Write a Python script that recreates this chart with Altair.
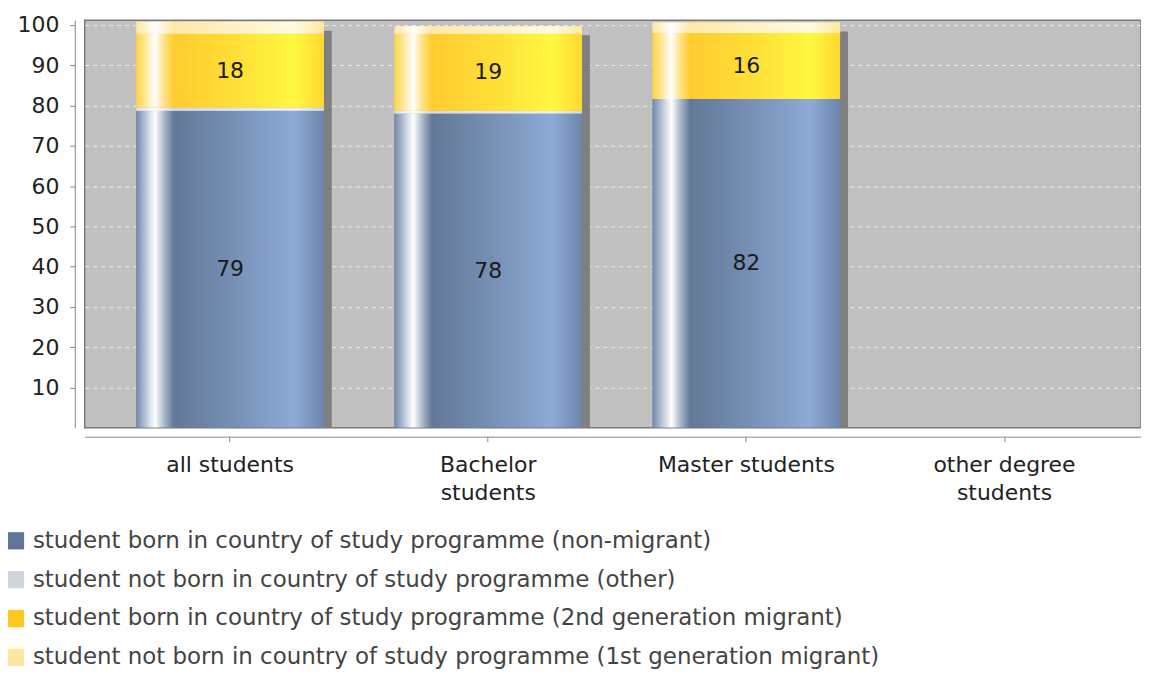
import altair as alt
import pandas as pd

categories = ["all students", "Bachelor students", "Master students", "other degree students"]
series = [
    "student born in country of study programme (non-migrant)",
    "student not born in country of study programme (other)",
    "student born in country of study programme (2nd generation migrant)",
    "student not born in country of study programme (1st generation migrant)",
]
non_migrant = [78.7, 78.0, 81.6, None]
other = [0.8, 0.7, 0.0, None]
gen2 = [18.3, 19.1, 16.4, None]
gen1 = [3.0, 1.9, 2.6, None]
legend_colors = ["#5f7595", "#d0d6e0", "#ffc820", "#ffe7a0"]

rows = []
for si, vals in enumerate([non_migrant, other, gen2, gen1]):
    for c, v in zip(categories, vals):
        if v is not None:
            rows.append({"cat": c, "series": series[si], "order": si, "value": v})
df = pd.DataFrame(rows)

FONT = "DejaVu Sans"

def grad(stops):
    return alt.LinearGradient(
        gradient="linear",
        stops=[alt.GradientStop(color=c, offset=o) for o, c in stops],
        x1=0, x2=1, y1=0, y2=0,
    )

grads = [
    grad([(0, "#7088aa"), (0.05, "#b8c6d8"), (0.1, "#ffffff"), (0.15, "#a8b6c8"),
          (0.2, "#627896"), (0.55, "#7892b8"), (0.84, "#8eaad6"), (1, "#6c86ac")]),
    grad([(0, "#d8dee8"), (0.1, "#ffffff"), (0.2, "#d4dae4"), (0.84, "#eef2f8"), (1, "#d0d8e4")]),
    grad([(0, "#ffd448"), (0.05, "#ffe89a"), (0.1, "#ffffff"), (0.15, "#ffe080"),
          (0.2, "#ffcc30"), (0.55, "#ffe038"), (0.84, "#fff840"), (1, "#ffd830")]),
    grad([(0, "#ffe7a0"), (0.1, "#ffffff"), (0.2, "#ffe8a8"), (0.84, "#fffbe0"), (1, "#ffe8a0")]),
]

x_scale = alt.Scale(domain=categories, paddingInner=0.274, paddingOuter=0.183, align=0.547)
y_scale = alt.Scale(domain=[0, 101.2], nice=False)

label_expr = ("datum.value == 'Bachelor students' ? ['Bachelor', 'students'] : "
              "datum.value == 'other degree students' ? ['other degree', 'students'] : datum.value")

x_enc = alt.X("cat:N", scale=x_scale, sort=categories, title=None,
              axis=alt.Axis(labelExpr=label_expr, labelAngle=0, offset=9, tickSize=5,
                            labelPadding=13, labelFontSize=22, labelLineHeight=28,
                            labelColor="#222", domainColor="#888", tickColor="#888",
                            labelFont=FONT, grid=False))
y_axis = alt.Axis(values=list(range(10, 101, 10)), offset=10, tickSize=5, labelFontSize=22,
                  labelColor="#222", domainColor="#888", tickColor="#888", labelFont=FONT,
                  grid=True, gridColor="#ececec", gridDash=[4, 4], gridWidth=1, labelPadding=11)


def stacked():
    return alt.Chart(df).transform_stack(
        stack="value", groupby=["cat"], as_=["y0", "y1"],
        sort=[alt.SortField("order", order="ascending")],
    )

shadow = alt.Chart(df).transform_aggregate(total="sum(value)", groupby=["cat"]).mark_bar(
    color="#808080", xOffset=8, yOffset=9, clip=True
).encode(x=x_enc, y=alt.Y("total:Q", scale=y_scale, axis=y_axis, title=None))

flat = stacked().mark_bar(clip=True).encode(
    x=x_enc,
    y=alt.Y("y0:Q", scale=y_scale, axis=y_axis, title=None),
    y2="y1:Q",
    color=alt.Color("series:N", scale=alt.Scale(domain=series, range=legend_colors),
                    legend=alt.Legend(orient="none", legendX=-81, legendY=511, title=None,
                                      symbolType="square", symbolSize=300, symbolStrokeWidth=0,
                                      labelFontSize=23, labelColor="#444", labelFont=FONT,
                                      labelLimit=0, rowPadding=15, padding=0, labelOffset=6,
                                      direction="vertical")),
)

layers = [shadow, flat]
for i, s in enumerate(series):
    layers.append(
        stacked().transform_filter(alt.datum.series == s).mark_bar(fill=grads[i], clip=True).encode(
            x=x_enc, y=alt.Y("y0:Q", scale=y_scale), y2="y1:Q"
        )
    )

text = stacked().transform_filter(
    (alt.datum.order == 0) | (alt.datum.order == 2)
).transform_calculate(mid="(datum.y0 + datum.y1) / 2").mark_text(
    fontSize=22, color="#1a1a1a", font=FONT
).encode(x=x_enc, y=alt.Y("mid:Q", scale=y_scale), text=alt.Text("value:Q", format=".0f"))
layers.append(text)

chart = alt.layer(*layers).properties(
    width=1060, height=409,
    autosize=alt.AutoSizeParams(type="none"),
    padding={"left": 77, "top": 11, "right": 0, "bottom": 244},
    background="white",
).configure_view(fill="#c0c0c0", stroke="#7a7a7a", strokeWidth=1.5)

chart.save("out.html", embed_options={"renderer": "svg", "actions": False})
